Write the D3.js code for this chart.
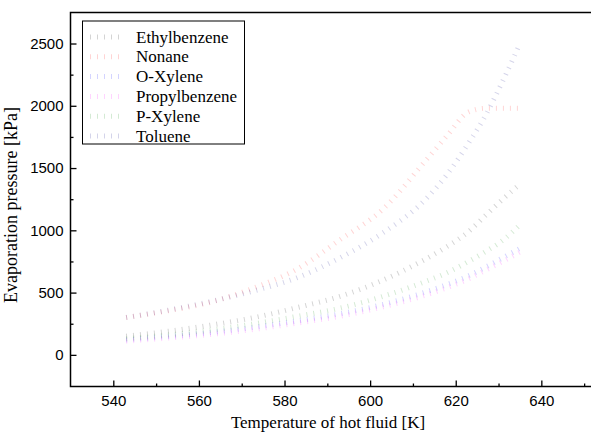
<!DOCTYPE html>
<html>
<head>
<meta charset="utf-8">
<script src="https://cdn.jsdelivr.net/npm/d3@7"></script>
<style>
  body { margin: 0; background: #fff; }
  svg { display: block; }
  .tick text { font-family: "Liberation Sans", Arial, sans-serif; font-size: 15px; fill: #000; }
  .title { font-family: "Liberation Serif", "Times New Roman", serif; font-size: 17px; fill: #000; }
</style>
</head>
<body>
<div id="chart"></div>
<script>
// data
const temps = [543, 553, 563, 573, 583, 593, 603, 613, 618, 623, 627, 631, 635];
const ethylbenzene = [150, 190, 240, 300, 380, 470, 600, 770, 870, 990, 1120, 1250, 1370];
const nonane = [300, 355, 425, 540, 690, 925, 1170, 1560, 1760, 1950, 1980, 1980, 1980];
const oXylene = [120, 148, 180, 222, 272, 330, 405, 505, 565, 635, 705, 780, 855];
const propylbenzene = [110, 135, 165, 205, 255, 310, 385, 480, 540, 610, 680, 750, 825];
const pXylene = [130, 160, 200, 250, 310, 375, 470, 590, 660, 750, 830, 920, 1045];
const toluene = [300, 360, 430, 515, 620, 780, 980, 1250, 1450, 1700, 1925, 2200, 2500];

const names = ["Ethylbenzene", "Nonane", "O-Xylene", "Propylbenzene", "P-Xylene", "Toluene"];
const colors = ["#000000", "#ff0000", "#0000ff", "#ff00ff", "#008000", "#000080"];
const values = [ethylbenzene, nonane, oXylene, propylbenzene, pXylene, toluene];

const xMajor = [540, 560, 580, 600, 620, 640];
const xMinor = [550, 570, 590, 610, 630, 650];
const yMajor = [0, 500, 1000, 1500, 2000, 2500];
const yMinor = [250, 750, 1250, 1750, 2250];

const width = 591, height = 434;
const svg = d3.select("#chart").append("svg").attr("width", width).attr("height", height);

// scales
const x = d3.scaleLinear().domain([530, 652]).range([70.5, 592.7]);
const y = d3.scaleLinear().domain([-254, 2749]).range([386.5, 12.5]);

// series, drawn as faint dotted lines
const line = d3.line()
  .x((d, i) => x(temps[i]))
  .y(d => y(d))
  .curve(d3.curveMonotoneX);

const dotStyle = sel => sel
  .attr("fill", "none")
  .attr("stroke-width", 5)
  .attr("stroke-dasharray", "1 6")
  .attr("stroke-opacity", 0.17);

svg.selectAll(".series")
  .data(values)
  .enter()
  .append("path")
  .attr("class", "series")
  .attr("d", line)
  .attr("stroke", (d, i) => colors[i])
  .call(dotStyle);

// axes
svg.append("g")
  .attr("transform", `translate(0, ${y.range()[0]})`)
  .call(d3.axisBottom(x).tickValues(xMajor).tickSize(-6).tickPadding(9).tickFormat(d3.format("d")));
svg.append("g")
  .attr("transform", `translate(0, ${y.range()[0]})`)
  .call(d3.axisBottom(x).tickValues(xMinor).tickSize(-3).tickFormat(""));

svg.append("g")
  .attr("transform", `translate(${x.range()[0]}, 0)`)
  .call(d3.axisLeft(y).tickValues(yMajor).tickSize(-6).tickPadding(7).tickFormat(d3.format("d")));
svg.append("g")
  .attr("transform", `translate(${x.range()[0]}, 0)`)
  .call(d3.axisLeft(y).tickValues(yMinor).tickSize(-3).tickFormat(""));

svg.selectAll(".domain").remove();
svg.selectAll(".tick line").attr("stroke", "#000").attr("stroke-width", 1.3);

// frame
svg.append("rect")
  .attr("x", x.range()[0])
  .attr("y", y.range()[1])
  .attr("width", x.range()[1] - x.range()[0])
  .attr("height", y.range()[0] - y.range()[1])
  .attr("fill", "none")
  .attr("stroke", "#000")
  .attr("stroke-width", 1.5);

// titles
svg.append("text")
  .attr("class", "title")
  .attr("x", 328)
  .attr("y", 428)
  .attr("text-anchor", "middle")
  .text("Temperature of hot fluid [K]");

svg.append("text")
  .attr("class", "title")
  .attr("transform", "translate(17, 205) rotate(-90)")
  .attr("text-anchor", "middle")
  .style("font-size", "18px")
  .text("Evaporation pressure [kPa]");

// legend
const legend = svg.append("g");
legend.append("rect")
  .attr("x", 82.5).attr("y", 21)
  .attr("width", 162).attr("height", 123)
  .attr("fill", "#fff")
  .attr("stroke", "#000")
  .attr("stroke-width", 1);

const rows = legend.selectAll(".row")
  .data(names)
  .enter()
  .append("g")
  .attr("transform", (d, i) => `translate(0, ${37 + i * 19.8})`);

rows.append("line")
  .attr("x1", 90).attr("x2", 124)
  .attr("y1", 0).attr("y2", 0)
  .attr("stroke", (d, i) => colors[i])
  .call(dotStyle);

rows.append("text")
  .attr("class", "title")
  .attr("x", 136)
  .attr("y", 5.5)
  .text(d => d);
</script>
</body>
</html>
